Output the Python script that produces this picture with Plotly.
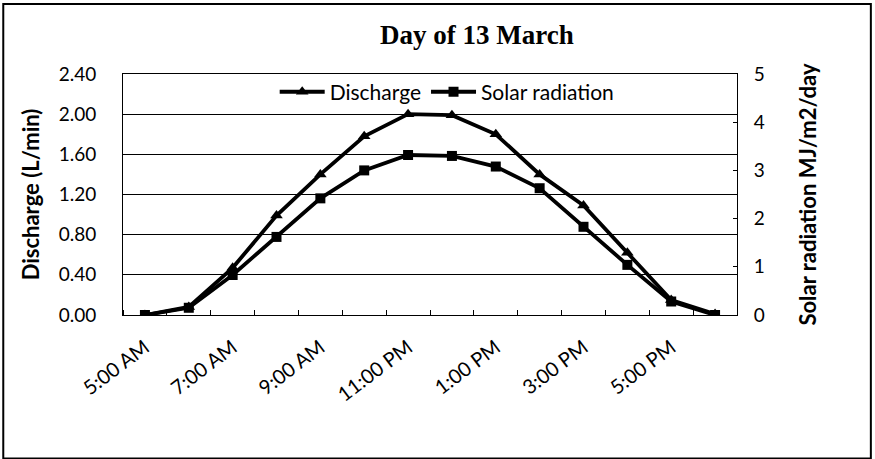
import plotly.graph_objects as go

# Hourly readings, 13 March
hours = ["5:00 AM", "6:00 AM", "7:00 AM", "8:00 AM", "9:00 AM", "10:00 AM",
         "11:00 PM", "12:00 PM", "1:00 PM", "2:00 PM", "3:00 PM", "4:00 PM",
         "5:00 PM", "6:00 PM"]
discharge = [0.0, 0.08, 0.47, 0.99, 1.40, 1.78, 2.00, 1.99, 1.80, 1.40, 1.09, 0.62, 0.15, 0.01]
solar = [0.0, 0.15, 0.83, 1.62, 2.42, 3.00, 3.32, 3.30, 3.08, 2.63, 1.83, 1.04, 0.28, 0.0]

x_idx = list(range(len(hours)))
label_idx = x_idx[::2]
label_text = hours[::2]

tick_font = dict(family="Lato, 'Open Sans', sans-serif", size=19, color="black")
xtick_font = dict(family="Lato, 'Open Sans', sans-serif", size=20, color="black")
legend_font = dict(family="Lato, 'Open Sans', sans-serif", size=21, color="black")
title_font = dict(family="Lato, 'Open Sans', sans-serif", size=22, color="black")

fig = go.Figure()

fig.add_trace(go.Scatter(
    x=x_idx, y=discharge, name="Discharge",
    mode="lines+markers",
    line=dict(color="black", width=3.8),
    marker=dict(symbol="triangle-up", size=11, color="black"),
    yaxis="y"
))

fig.add_trace(go.Scatter(
    x=x_idx, y=solar, name="Solar radiation",
    mode="lines+markers",
    line=dict(color="black", width=3.8),
    marker=dict(symbol="square", size=10, color="black"),
    yaxis="y2"
))

fig.update_layout(
    width=875, height=459,
    paper_bgcolor="white", plot_bgcolor="white",
    margin=dict(l=123, r=138, t=74, b=144),
    showlegend=True,
    title=dict(
        text="<b>Day of 13 March</b>",
        font=dict(family="'Liberation Serif', 'Times New Roman', serif", size=27, color="black"),
        x=0.545, xanchor="center", y=0.925, yanchor="middle"
    ),
    xaxis=dict(
        range=[-0.5, len(hours) - 0.5],
        tickmode="array", tickvals=label_idx, ticktext=label_text,
        tickangle=-37, tickfont=xtick_font, ticklabelstandoff=12,
        ticks="", showgrid=False,
        showline=True, linecolor="black", linewidth=1, mirror=True,
        zeroline=False,
        minor=dict(tick0=-0.5, dtick=1, ticks="inside", ticklen=5,
                   tickcolor="black", showgrid=False),
    ),
    yaxis=dict(
        range=[0, 2.4], dtick=0.4, tickformat=".2f",
        tickfont=tick_font, ticklabelstandoff=22,
        title=dict(text="<b>Discharge (L/min)</b>", font=title_font, standoff=12),
        showgrid=True, gridcolor="black", gridwidth=1,
        showline=True, linecolor="black", linewidth=1,
        ticks="inside", ticklen=4, tickcolor="black",
        zeroline=False,
    ),
    yaxis2=dict(
        range=[0, 5], dtick=1,
        overlaying="y", side="right",
        tickfont=tick_font, ticklabelstandoff=12,
        title=dict(text="<b>Solar radiation MJ/m2/day</b>", font=title_font, standoff=36),
        showgrid=False,
        showline=True, linecolor="black", linewidth=1,
        ticks="inside", ticklen=4, tickcolor="black",
        zeroline=False,
    ),
    legend=dict(
        orientation="h",
        x=0.528, xanchor="center", y=1.01, yanchor="top",
        font=legend_font, bgcolor="rgba(0,0,0,0)",
        itemwidth=45,
    ),
    shapes=[dict(
        type="rect", xref="paper", yref="paper",
        x0=-0.195, x1=1.218, y0=-0.595, y1=1.290,
        line=dict(color="black", width=2),
        layer="below",
    )],
)

# the page has an 8px body margin by default; drop it so the figure sits at 0,0
fig.write_html("out.html", config={"displayModeBar": False},
               post_script="document.body.style.margin='0';")
